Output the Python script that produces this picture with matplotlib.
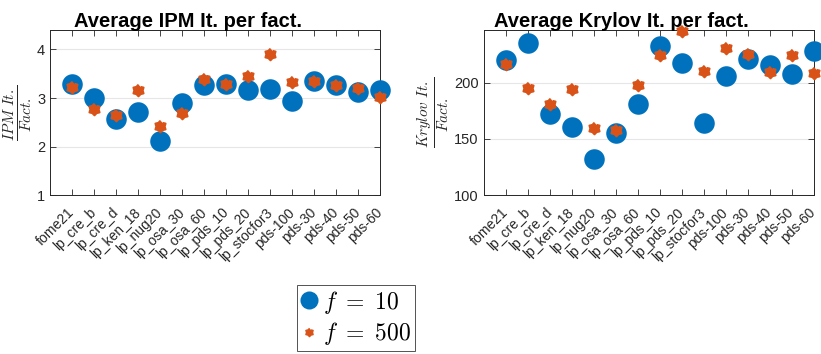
import numpy as np
import matplotlib
matplotlib.use("Agg")
import matplotlib.pyplot as plt
from matplotlib.lines import Line2D

plt.rcParams["font.family"] = ["Liberation Sans", "DejaVu Sans"]
plt.rcParams["mathtext.fontset"] = "cm"

problems = ["fome21", "lp_cre_b", "lp_cre_d", "lp_ken_18", "lp_nug20",
            "lp_osa_30", "lp_osa_60", "lp_pds_10", "lp_pds_20", "lp_stocfor3",
            "pds-100", "pds-30", "pds-40", "pds-50", "pds-60"]

ipm_f10 = [3.28, 3.01, 2.56, 2.72, 2.12, 2.90, 3.27, 3.28, 3.16, 3.19,
           2.94, 3.36, 3.26, 3.12, 3.16]
ipm_f500 = [3.23, 2.78, 2.64, 3.17, 2.42, 2.70, 3.40, 3.28, 3.45, 3.90,
            3.32, 3.36, 3.26, 3.21, 3.03]

krylov_f10 = [220.5, 235.4, 172.0, 160.4, 131.8, 155.0, 181.3, 232.4, 217.6,
              164.6, 206.3, 221.4, 216.0, 208.0, 228.0]
krylov_f500 = [216.7, 195.8, 181.3, 194.6, 159.5, 158.0, 198.2, 225.0, 245.8,
               210.7, 230.7, 225.6, 210.0, 224.7, 208.6]

blue = "#0072BD"
orange = "#D95319"

# hexagram marker like matlab's (fat arms)
ang = np.linspace(0, 2 * np.pi, 13)[:-1] + np.pi / 2
rad = np.where(np.arange(12) % 2 == 0, 1.0, 0.72)
hexagram = list(zip(rad * np.cos(ang), rad * np.sin(ang)))

fig = plt.figure(figsize=(8.21, 3.54), dpi=100)
ax1 = fig.add_axes([0.061, 0.449, 0.402, 0.466])
ax2 = fig.add_axes([0.589, 0.449, 0.402, 0.466])

x = np.arange(1, len(problems) + 1)

panels = [
    (ax1, ipm_f10, ipm_f500, "Average IPM It. per fact.",
     r"$\frac{IPM\ It.}{Fact.}$", (1, 4.4), [1, 2, 3, 4]),
    (ax2, krylov_f10, krylov_f500, "Average Krylov It. per fact.",
     r"$\frac{Krylov\ It.}{Fact.}$", (100, 247), [100, 150, 200]),
]

for ax, v10, v500, title, ylab, ylim, yt in panels:
    ax.plot(x, v10, "o", color=blue, markersize=14.8, markeredgewidth=0,
            clip_on=False, zorder=3)
    ax.plot(x, v500, linestyle="none", marker=hexagram, color=orange,
            markersize=8.5, markeredgewidth=1.4, markeredgecolor=orange,
            clip_on=False, zorder=4)
    ax.set_xlim(0, 15)
    ax.set_ylim(*ylim)
    ax.set_yticks(yt)
    ax.set_xticks(x)
    ax.set_xticklabels(problems, rotation=45, ha="right", va="center",
                       rotation_mode="anchor", fontsize=10, color="#262626")
    ax.tick_params(axis="x", pad=11)
    ax.tick_params(axis="y", labelsize=10.5, labelcolor="#262626")
    ax.tick_params(direction="in", top=True, right=True, length=4,
                   width=0.6, color="#262626")
    ax.yaxis.grid(True, color="#e6e6e6", linewidth=0.8)
    ax.set_axisbelow(True)
    for s in ax.spines.values():
        s.set_color("#262626")
        s.set_linewidth(0.7)
    ax.set_title(title, fontsize=14.5, fontweight="bold", x=0.418, pad=2)
    ax.set_ylabel(ylab, fontsize=15.5, color="#262626", labelpad=2)

# legend proxies (matlab legend draws the star smaller)
handles = [
    Line2D([], [], linestyle="none", marker="o", color=blue,
           markersize=13, markeredgewidth=0),
    Line2D([], [], linestyle="none", marker=hexagram, color=orange,
           markersize=6, markeredgewidth=1.0, markeredgecolor=orange),
]
labels = [r"$f\ =\ 10$", r"$f\ =\ 500$"]
leg = fig.legend(handles, labels, loc="upper left",
                 bbox_to_anchor=(0.362, 0.195), fontsize=17,
                 frameon=True, fancybox=False, handlelength=0.7,
                 handletextpad=0.25, borderpad=0.15, labelspacing=0.2,
                 borderaxespad=0)
leg.get_frame().set_edgecolor("#262626")
leg.get_frame().set_linewidth(0.7)

fig.savefig("out.png", dpi=100)
